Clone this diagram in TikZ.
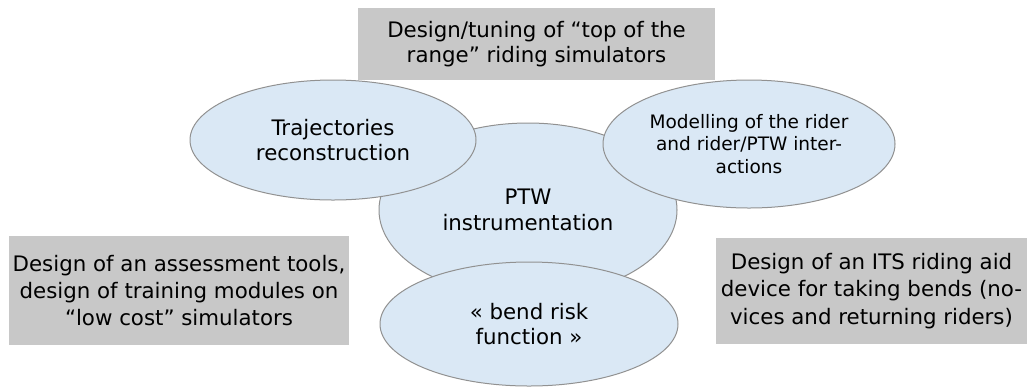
\documentclass[tikz,border=0pt]{standalone}
\usepackage{fontspec}
\setmainfont{DejaVu Sans}
\usetikzlibrary{shapes.geometric}

\tikzset{every picture/.style={line width=0.75pt}}
\tikzset{
	bubble/.style={ellipse, draw={rgb, 255:red, 145; green, 145; blue, 145 }, fill={rgb, 255:red, 218; green, 232; blue, 245 }, fill opacity=1, inner sep=0pt, align=center},
	greybox/.style={rectangle, draw opacity=0, fill={rgb, 255:red, 200; green, 200; blue, 200 }, fill opacity=1, inner sep=0pt, align=center},
	bigtext/.style={font=\fontsize{16}{19}\selectfont},
	boxtext/.style={font=\fontsize{16}{20.5}\selectfont},
	smalltext/.style={font=\fontsize{13.9}{17}\selectfont}}

\begin{document}
\begin{tikzpicture}[x=0.75pt,y=0.75pt,yscale=-1,xscale=1]
	\useasboundingbox (0,0) rectangle (1027,387);

	%Shape: Ellipse [PTW]
	\node [bubble, bigtext, minimum width=223.5pt, minimum height=130.5pt] (ptw) at (528,210) {PTW\\instrumentation};
	%Shape: Ellipse [trajectories]
	\node [bubble, bigtext, minimum width=214.5pt, minimum height=90pt] (traj) at (333,140) {Trajectories\\reconstruction};
	%Shape: Ellipse [rider model]
	\node [bubble, smalltext, minimum width=219pt, minimum height=96pt] (rider) at (749,144) {Modelling of the rider\\and rider/PTW inter-\\actions};
	%Shape: Ellipse [bend risk]
	\node [bubble, bigtext, minimum width=223.5pt, minimum height=93pt] (bend) at (529,324) {« bend risk\\function »};

	%Shape: Rectangle [simulators]
	\node [greybox, bigtext, minimum width=267.75pt, minimum height=54pt] (topsim) at (536.5,44) {Design/tuning of “top of the\\range” riding simulators};
	%Shape: Rectangle [training]
	\node [greybox, boxtext, minimum width=255pt, minimum height=81.75pt] (training) at (179,290.5) {Design of an assessment tools,\\design of training modules on\\“low cost” simulators};
	%Shape: Rectangle [riding aid]
	\node [greybox, boxtext, minimum width=233.25pt, minimum height=79.5pt] (aid) at (871.5,291) {Design of an ITS riding aid\\device for taking bends (no-\\vices and returning riders)};

\end{tikzpicture}
\end{document}
